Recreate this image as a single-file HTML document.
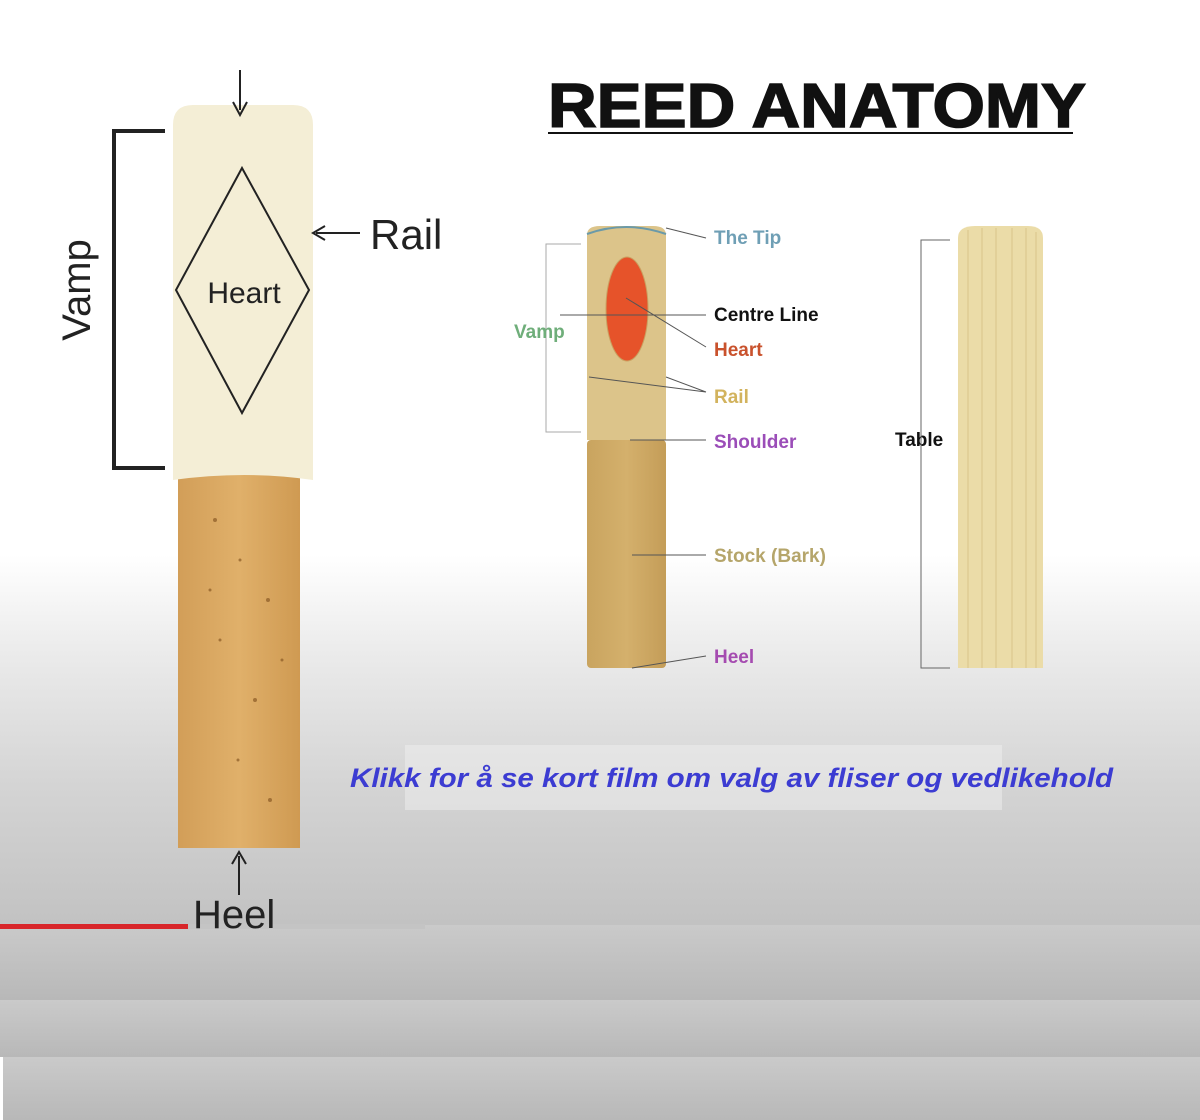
<!DOCTYPE html>
<html><head><meta charset="utf-8"><style>
html,body{margin:0;padding:0;width:1200px;height:1120px;overflow:hidden;background:#fff}
svg{display:block}
</style></head><body>
<svg width="1200" height="1120" viewBox="0 0 1200 1120" xmlns="http://www.w3.org/2000/svg">
<defs>
<linearGradient id="bg" x1="0" y1="0" x2="0" y2="925" gradientUnits="userSpaceOnUse">
<stop offset="0" stop-color="#fff"/><stop offset="0.6" stop-color="#fff"/>
<stop offset="0.7" stop-color="#ececec"/><stop offset="0.85" stop-color="#d4d4d4"/><stop offset="1" stop-color="#c2c2c2"/>
</linearGradient>
<linearGradient id="b1" x1="0" y1="0" x2="0" y2="1"><stop offset="0" stop-color="#cacaca"/><stop offset="1" stop-color="#b8b8b8"/></linearGradient>
<linearGradient id="tan" x1="0" y1="0" x2="1" y2="0"><stop offset="0" stop-color="#d29e58"/><stop offset="0.5" stop-color="#e0b06a"/><stop offset="1" stop-color="#cf9a52"/></linearGradient>
<linearGradient id="mid" x1="0" y1="0" x2="1" y2="0"><stop offset="0" stop-color="#c9a45f"/><stop offset="0.5" stop-color="#d4b06c"/><stop offset="1" stop-color="#c49d58"/></linearGradient>
</defs>
<rect width="1200" height="925" fill="url(#bg)"/>
<rect y="925" width="1200" height="75" fill="url(#b1)"/>
<rect y="1000" width="1200" height="57" fill="url(#b1)"/>
<rect y="1057" width="1200" height="63" fill="url(#b1)"/>
<rect x="0" y="1057" width="3" height="63" fill="#fff"/>
<rect x="0" y="924" width="188" height="5" fill="#d8262a"/>
<rect x="188" y="924" width="237" height="5" fill="#c4c4c4"/>

<!-- left reed -->
<rect x="178" y="470" width="122" height="378" fill="url(#tan)"/>
<g fill="#8a5a25" opacity="0.7">
<circle cx="215" cy="520" r="2"/><circle cx="240" cy="560" r="1.5"/><circle cx="268" cy="600" r="2"/><circle cx="220" cy="640" r="1.5"/><circle cx="255" cy="700" r="2"/><circle cx="238" cy="760" r="1.5"/><circle cx="270" cy="800" r="2"/><circle cx="210" cy="590" r="1.5"/><circle cx="282" cy="660" r="1.5"/>
</g>
<path d="M173 480 L173 125 Q173 105 193 105 L293 105 Q313 105 313 125 L313 480 Q245 470 173 480Z" fill="#f4eed6"/>
<polygon points="242,168 309,290 242,413 176,290" fill="none" stroke="#222" stroke-width="2"/>
<text x="244" y="303" font-family="Liberation Sans,sans-serif" font-size="30" text-anchor="middle" fill="#222">Heart</text>
<path d="M165 131 H114 V468 H165" fill="none" stroke="#222" stroke-width="4"/>
<text transform="translate(90,290) rotate(-90)" font-family="Liberation Sans,sans-serif" font-size="40" text-anchor="middle" fill="#222">Vamp</text>
<line x1="240" y1="70" x2="240" y2="110" stroke="#222" stroke-width="2"/>
<path d="M233 102 L240 115 L247 102" fill="none" stroke="#222" stroke-width="2"/>
<line x1="360" y1="233" x2="316" y2="233" stroke="#222" stroke-width="2"/>
<path d="M325 226 L313 233 L325 240" fill="none" stroke="#222" stroke-width="2"/>
<text x="370" y="249" font-family="Liberation Sans,sans-serif" font-size="42" fill="#222">Rail</text>
<line x1="239" y1="895" x2="239" y2="856" stroke="#222" stroke-width="2"/>
<path d="M232 864 L239 852 L246 864" fill="none" stroke="#222" stroke-width="2"/>
<text x="193" y="928" font-family="Liberation Sans,sans-serif" font-size="40" fill="#222">Heel</text>

<!-- title -->
<text x="548" y="127" font-family="Liberation Sans,sans-serif" font-weight="bold" font-size="62" textLength="538" lengthAdjust="spacingAndGlyphs" fill="#111" stroke="#111" stroke-width="1.5">REED ANATOMY</text>
<line x1="548" y1="133" x2="1073" y2="133" stroke="#111" stroke-width="2"/>

<!-- middle reed -->
<rect x="587" y="440" width="79" height="228" rx="4" fill="url(#mid)"/>
<path d="M587 440 V235 Q587 226 600 226 H653 Q666 226 666 235 V440Z" fill="#dcc48a"/>
<path d="M587 234 Q626 220 666 234" fill="none" stroke="#6b9aa8" stroke-width="2"/>
<ellipse cx="627" cy="309" rx="21" ry="52" fill="#e6532a" stroke="#c9a060" stroke-width="1"/>
<g stroke="#555" stroke-width="1" fill="none">
<path d="M666 228 L706 238"/>
<path d="M560 315 L706 315"/>
<path d="M626 298 L706 347"/>
<path d="M589 377 L706 392 M666 377 L706 392"/>
<path d="M630 440 L706 440"/>
<path d="M632 555 L706 555"/>
<path d="M632 668 L706 656"/>
</g>
<path d="M581 244 H546 V432 H581" fill="none" stroke="#aaa" stroke-width="1"/>
<g font-family="Liberation Sans,sans-serif" font-weight="bold" font-size="19">
<text x="514" y="338" fill="#6fae7a">Vamp</text>
<text x="714" y="244" fill="#6f9fb5">The Tip</text>
<text x="714" y="321" fill="#111">Centre Line</text>
<text x="714" y="356" fill="#c9522d">Heart</text>
<text x="714" y="403" fill="#d2b35e">Rail</text>
<text x="714" y="448" fill="#9b4db8">Shoulder</text>
<text x="714" y="562" fill="#b5a56a">Stock (Bark)</text>
<text x="714" y="663" fill="#a54bb0">Heel</text>
<text x="895" y="446" fill="#111">Table</text>
</g>

<!-- right reed -->
<path d="M958 668 V238 Q958 226 975 226 H1028 Q1043 226 1043 238 V668Z" fill="#ebdca8"/>
<g stroke="#d8c48a" stroke-width="1">
<line x1="968" y1="230" x2="968" y2="668"/><line x1="982" y1="228" x2="982" y2="668"/><line x1="996" y1="228" x2="996" y2="668"/><line x1="1012" y1="228" x2="1012" y2="668"/><line x1="1026" y1="228" x2="1026" y2="668"/><line x1="1036" y1="232" x2="1036" y2="668"/>
</g>
<path d="M950 240 H921 V668 H950" fill="none" stroke="#666" stroke-width="1"/>

<!-- link -->
<rect x="405" y="745" width="597" height="65" fill="#f0f0f0" opacity="0.5"/>
<text x="350" y="787" font-family="Liberation Sans,sans-serif" font-style="italic" font-weight="bold" font-size="27" textLength="763" lengthAdjust="spacingAndGlyphs" fill="#3c3cd2">Klikk for å se kort film om valg av fliser og vedlikehold</text>
</svg>
</body></html>
